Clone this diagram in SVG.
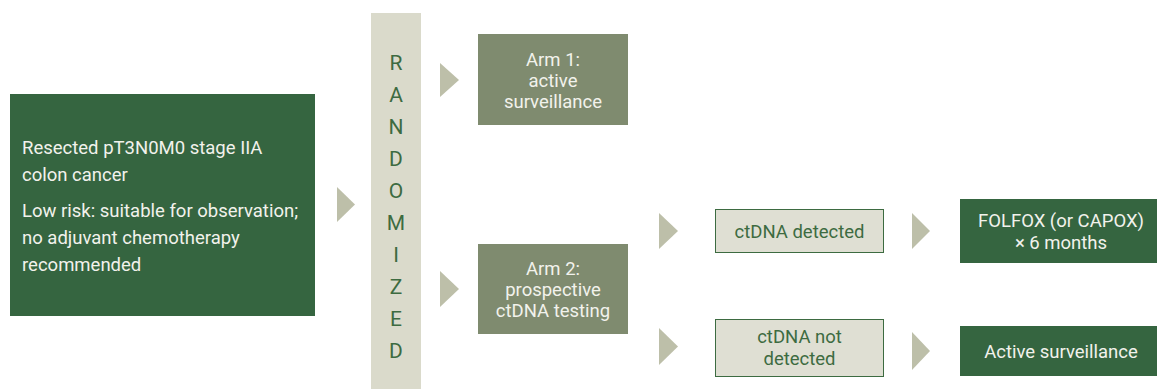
<svg xmlns="http://www.w3.org/2000/svg" width="1157" height="389" viewBox="0 0 1157 389">
<style>
text{font-family:Roboto,"Liberation Sans",sans-serif;font-size:18.5px}
.dk{fill:#356540}
.arm{fill:#7f8b6f}
.lt{fill:#dfdfd3;stroke:#3d6b41;stroke-width:1}
.w{fill:#f2f2ec}
.g{fill:#3d6b41}
.c{text-anchor:middle}
.chev{fill:#bdbfa9}
.rl{font-size:21px;fill:#3d6b41;text-anchor:middle}
</style>
<rect width="1157" height="389" fill="#ffffff"/>
<g id="connectors">
<polygon class="chev" points="337,187 355,204.5 337,222"/>
<polygon class="chev" points="440,63 459,80 440,97"/>
<polygon class="chev" points="440,271 459,289 440,307"/>
<polygon class="chev" points="659,213 678,231 659,249"/>
<polygon class="chev" points="912,213 930,231 912,249"/>
<polygon class="chev" points="659,328 678,346.5 659,365"/>
<polygon class="chev" points="912,332 930,351 912,370"/>
</g>
<g id="patient">
<rect class="dk" x="10" y="94" width="305" height="222"/>
<text class="w" x="22" y="154">Resected pT3N0M0 stage IIA</text>
<text class="w" x="22" y="181">colon cancer</text>
<text class="w" x="22" y="217">Low risk: suitable for observation;</text>
<text class="w" x="22" y="244">no adjuvant chemotherapy</text>
<text class="w" x="22" y="271">recommended</text>
</g>
<g id="randomized">
<rect x="371" y="13" width="50" height="376" fill="#dadacb"/>
<text class="rl" x="396" y="70">R</text>
<text class="rl" x="396" y="102">A</text>
<text class="rl" x="396" y="134">N</text>
<text class="rl" x="396" y="166">D</text>
<text class="rl" x="396" y="198">O</text>
<text class="rl" x="396" y="230">M</text>
<text class="rl" x="396" y="262">I</text>
<text class="rl" x="396" y="294">Z</text>
<text class="rl" x="396" y="326">E</text>
<text class="rl" x="396" y="358">D</text>
</g>
<g id="arm1">
<rect class="arm" x="478" y="34" width="150" height="91"/>
<text class="w c" x="553" y="66">Arm 1:</text>
<text class="w c" x="553" y="87">active</text>
<text class="w c" x="553" y="108">surveillance</text>
</g>
<g id="arm2">
<rect class="arm" x="478" y="244" width="150" height="90"/>
<text class="w c" x="553" y="275">Arm 2:</text>
<text class="w c" x="553" y="296">prospective</text>
<text class="w c" x="553" y="317">ctDNA testing</text>
</g>
<g id="detected">
<rect class="lt" x="715.5" y="209.5" width="168" height="43"/>
<text class="g c" x="799.5" y="238">ctDNA detected</text>
</g>
<g id="notdetected">
<rect class="lt" x="715.5" y="319.5" width="168" height="57"/>
<text class="g c" x="799.5" y="343">ctDNA not</text>
<text class="g c" x="799.5" y="365">detected</text>
</g>
<g id="folfox">
<rect class="dk" x="960" y="199" width="197" height="64"/>
<text class="w c" x="1061" y="227">FOLFOX (or CAPOX)</text>
<text class="w c" x="1061" y="249">× 6 months</text>
</g>
<g id="surveillance">
<rect class="dk" x="960" y="326" width="197" height="50"/>
<text class="w c" x="1061" y="358">Active surveillance</text>
</g>
</svg>
